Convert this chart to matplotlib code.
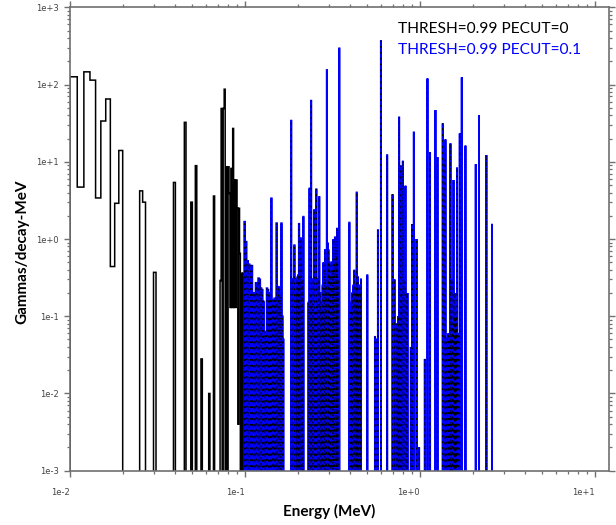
import numpy as np
import matplotlib.pyplot as plt

# PECUT=0 spectrum below 100 keV (1 keV bins, gammas/decay-MeV)
black_kev = [10, 11, 12, 13, 14, 15, 16, 17, 18, 19,
             25, 26, 30, 39, 45, 49, 52, 56, 62, 66,
             72, 73, 75, 76, 78, 80, 81, 82, 83, 84, 85, 86, 87, 88, 89,
             90, 91, 92, 93, 95, 97]
black_val = [126, 4.7, 146, 114, 3.4, 33.7, 65, 0.44, 2.9, 14,
             4.2, 3.0, 0.37, 5.4, 32.4, 3.0, 8.9, 0.028, 0.01, 3.6,
             0.29, 49, 49, 87, 8.6, 8.6, 3.9, 0.13, 8.2, 0.13, 27, 0.13, 5.8, 0.13, 5.8,
             2.5, 0.004, 2.5, 0.65, 0.36, 0.36]

# PECUT=0.1 spectrum, 0.1 - 0.35 MeV
blue_low_kev = [99, 101, 103, 105, 107, 109, 111, 113, 115, 117, 119, 121, 123, 125,
                127, 129, 131, 133, 135, 137, 139, 141, 143, 145, 147, 149, 151, 153,
                155, 157, 159, 161, 163, 165,
                183, 187, 191, 195, 197, 199, 201, 203, 205, 208, 210, 212, 215,
                230, 233, 235, 238, 241, 244, 248, 251, 255, 258, 261, 265, 268, 271,
                274, 277, 280, 283, 286, 289, 291, 293, 296, 299, 302, 305, 308, 312,
                315, 318, 321, 324, 326, 330, 333, 335, 338, 340, 345]
blue_low_val = [1.67, 0.92, 0.52, 0.47, 0.45, 0.45, 0.2, 0.2, 0.27, 0.26, 0.31, 0.3, 0.23, 0.22,
                0.155, 0.063, 0.06, 0.23, 0.22, 0.2, 0.17, 3.36, 0.16, 0.16, 0.17, 0.16, 1.6, 0.18,
                0.24, 0.18, 0.18, 1.6, 0.1, 0.05,
                34, 0.3, 0.83, 0.2, 0.3, 0.32, 0.34, 1.57, 0.4, 1.02, 0.5, 0.3, 1.94,
                0.15, 4.5, 0.2, 61.7, 0.15, 0.3, 2.37, 0.12, 4.4, 0.15, 0.3, 3.5, 0.2, 0.15,
                0.12, 0.25, 0.49, 0.4, 0.72, 0.3, 0.25, 154, 0.88, 0.72, 0.5, 0.45, 0.34, 0.5,
                0.4, 0.97, 0.6, 0.5, 1.05, 0.8, 0.6, 1.36, 0.5, 0.3, 294]

# 0.39 - 1 MeV
blue_mid_kev = [394, 397, 402, 405, 410, 415, 420, 425, 430, 434, 437, 441, 445, 450, 455,
                459, 499, 552, 559, 574, 597, 648, 696, 714, 730, 743, 750, 759, 765, 776,
                785, 797, 810, 825, 835, 847, 885, 900, 921, 954, 987]
blue_mid_val = [1.63, 0.12, 0.12, 0.15, 0.2, 0.25, 0.39, 0.2, 0.25, 4.0, 0.3, 0.32, 0.2, 0.25, 0.2,
                0.3, 0.34, 0.054, 0.05, 1.3, 366, 12.2, 3.8, 0.3, 0.08, 0.08, 0.1, 38.3, 0.25, 8.9,
                0.2, 10.3, 0.3, 4.9, 0.2, 0.2, 0.04, 1.55, 24.5, 1.0, 0.002]

# above 1 MeV
blue_high_kev = [1064, 1102, 1140, 1224, 1257, 1347, 1371, 1396, 1410, 1433, 1450, 1464, 1480,
                 1491, 1510, 1522, 1540, 1551, 1565, 1578, 1590, 1599, 1610, 1626, 1650, 1685,
                 1730, 1816, 2079, 2171, 2392, 2575]
blue_high_val = [0.028, 120, 13.2, 46.7, 11.5, 31.4, 10.6, 19.5, 0.05, 0.053, 0.06, 0.055, 0.05,
                 17.3, 0.1, 0.3, 0.08, 5.8, 0.1, 0.2, 0.09, 0.11, 0.1, 8.4, 0.06, 23.3,
                 124, 16.2, 9.3, 40.3, 12.2, 1.57]

# lines where the PECUT=0 curve does not show through the blue one
blue_only_kev = [293, 345, 921, 1224, 1730, 2079, 2171, 2575]

legend_lines = ['THRESH=0.99 PECUT=0', 'THRESH=0.99 PECUT=0.1']
x_major = [0.01, 0.1, 1, 10]
y_major = [1e-3, 1e-2, 1e-1, 1e0, 1e1, 1e2, 1e3]

edges_kev = np.arange(10, 3001)
edges = edges_kev / 1000.0
floor = 1e-4


def to_bins(kev, val):
    h = np.full(len(edges_kev) - 1, floor)
    h[np.asarray(kev) - edges_kev[0]] = val
    return h


def exp_label(v):
    return f"1e{int(round(np.log10(v))):+d}"


black_h = to_bins(black_kev, black_val)
blue_kev = blue_low_kev + blue_mid_kev + blue_high_kev
blue_val = blue_low_val + blue_mid_val + blue_high_val
blue_h = to_bins(blue_kev, blue_val)

over_kev = [k for k in blue_kev if k not in blue_only_kev]
over_val = [v for k, v in zip(blue_kev, blue_val) if k not in blue_only_kev]
over_h = to_bins(over_kev, over_val)

fig = plt.figure(figsize=(6.16, 5.25), dpi=100)
ax = fig.add_axes([70 / 616, 1 - 470.7 / 525, (609 - 70) / 616, (470.7 - 7.3) / 525])

ax.stairs(black_h, edges, baseline=floor, color='black', lw=1.1)
ax.stairs(blue_h, edges, baseline=floor, color='#0000ff', lw=1.4)
# PECUT=0 curve showing through as dashes on top of the blue lines
ax.stairs(over_h, edges, baseline=floor, color='black', lw=0.5, linestyle=(0, (2.5, 6)))

ax.set_xscale('log')
ax.set_yscale('log')

x_minor = [m * d for d in [0.01, 0.1, 1, 10] for m in range(2, 10) if m * d < 12]
y_minor = [m * d for d in y_major[:-1] for m in range(2, 10)]
ax.set_xticks(x_major, [exp_label(v) for v in x_major], ha='right')
ax.set_yticks(y_major, [exp_label(v) for v in y_major])
ax.set_xticks(x_minor, minor=True)
ax.set_yticks(y_minor, minor=True)
ax.set_xlim(0.01, 12)
ax.set_ylim(1e-3, 1e3)

ax.tick_params(which='both', direction='out', top=True, right=True,
               color='#707070', labelcolor='#444444', labelsize=6)
ax.tick_params(which='major', length=4.5, width=1)
ax.tick_params(which='minor', length=2.3, width=0.9)
ax.tick_params(axis='x', pad=8)
ax.tick_params(axis='y', pad=3.5)
for s in ax.spines.values():
    s.set_color('#707070')
    s.set_linewidth(1.2)

fig.text(329.5 / 616, 1 - 511.5 / 525, 'Energy (MeV)', family='Lato', fontweight='bold',
         fontsize=11, ha='center', va='center')
fig.text(22 / 616, 1 - 252 / 525, 'Gammas/decay-MeV', family='Lato', fontweight='bold',
         fontsize=11, ha='center', va='center', rotation=90)

fig.text(398 / 616, 1 - 29 / 525, legend_lines[0], color='black', family='Lato',
         fontsize=11.2, va='center', ha='left')
fig.text(398 / 616, 1 - 50 / 525, legend_lines[1], color='#0000ff', family='Lato',
         fontsize=11.2, va='center', ha='left')

fig.savefig('out.png', dpi=100)
